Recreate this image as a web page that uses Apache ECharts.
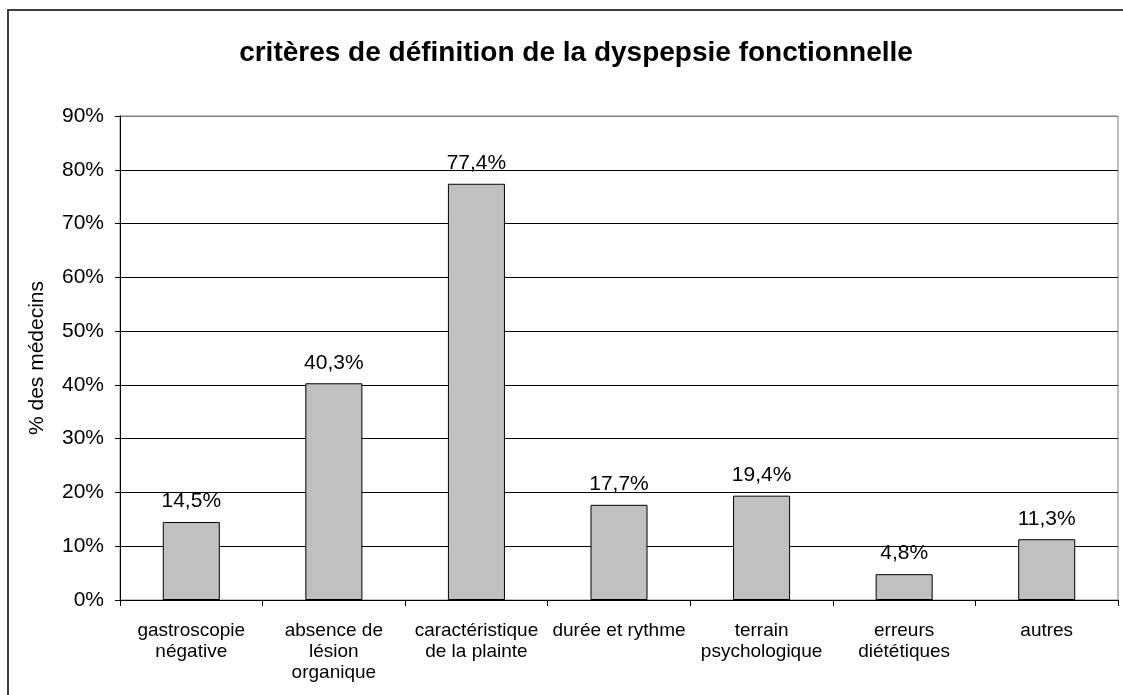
<!DOCTYPE html>
<html>
<head>
<meta charset="utf-8">
<script src="https://cdn.jsdelivr.net/npm/echarts@6/dist/echarts.min.js"></script>
<style>
  html, body { margin: 0; padding: 0; background: #fff; }
  #chart { width: 1123px; height: 695px; }
</style>
</head>
<body>
<div id="chart"></div>
<script>
// categories and values (% des médecins)
var categories = [
  "gastroscopie\nnégative",
  "absence de\nlésion\norganique",
  "caractéristique\nde la plainte",
  "durée et rythme",
  "terrain\npsychologique",
  "erreurs\ndiététiques",
  "autres"
];
var values = [14.5, 40.3, 77.4, 17.7, 19.4, 4.8, 11.3];
var yTicks = [0, 10, 20, 30, 40, 50, 60, 70, 80, 90];

var font = "Arial, 'Liberation Sans', sans-serif";
var chart = echarts.init(document.getElementById("chart"));

// grid lines black, the top one (90%) grey like the plot border
var splitColors = yTicks.map(function (t, i) { return i === yTicks.length - 1 ? "#808080" : "#000"; });

var option = {
  backgroundColor: "#fff",
  animation: false,
  title: {
    text: "critères de définition de la dyspepsie fonctionnelle",
    left: 571,
    textAlign: "center",
    top: 34,
    textStyle: { fontFamily: font, fontSize: 28, fontWeight: "bold", color: "#000" }
  },
  graphic: [{
    type: "rect",
    shape: { x: 8, y: 10, width: 1300, height: 900 },
    style: { fill: "none", stroke: "#404040", lineWidth: 2 },
    silent: true
  }],
  grid: {
    left: 120, right: 5, top: 116, bottom: 95,
    show: true, borderColor: "#808080", borderWidth: 1
  },
  xAxis: {
    type: "category",
    data: categories,
    axisLine: { lineStyle: { color: "#000", width: 1 } },
    axisTick: { show: true, length: 6, lineStyle: { color: "#000" } },
    axisLabel: {
      interval: 0, margin: 20, color: "#000",
      fontFamily: font, fontSize: 19, lineHeight: 21
    }
  },
  yAxis: {
    type: "value",
    min: 0, max: 90, interval: 10,
    name: "% des médecins",
    nameLocation: "middle",
    nameGap: 72,
    nameTextStyle: { fontFamily: font, fontSize: 21, color: "#000" },
    axisLine: { show: true, lineStyle: { color: "#000" } },
    axisTick: { show: true, length: 5, lineStyle: { color: "#000" } },
    axisLabel: {
      color: "#000", fontFamily: font, fontSize: 21, margin: 16,
      formatter: function (v) { return v + "%"; }
    },
    splitLine: { show: true, lineStyle: { color: splitColors, width: 1 } }
  },
  series: [{
    type: "bar",
    data: values,
    barWidth: "40%",
    itemStyle: { color: "#c0c0c0", borderColor: "#000", borderWidth: 1 },
    label: {
      show: true, position: "top", distance: 10,
      color: "#000", fontFamily: font, fontSize: 21,
      formatter: function (p) { return p.value.toFixed(1).replace(".", ",") + "%"; }
    }
  }]
};
chart.setOption(option);
</script>
</body>
</html>
